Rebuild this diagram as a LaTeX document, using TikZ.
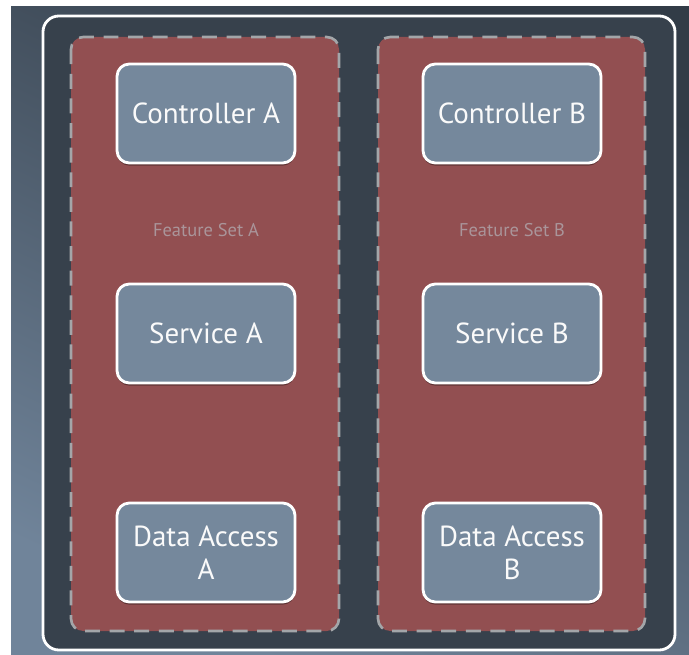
\documentclass[tikz,border=0pt]{standalone}
\usepackage{fontspec}
\setmainfont{PT Sans}
\usepackage{tikz}
\usetikzlibrary{positioning, shadows, calc}
\usepackage{xcolor}

\definecolor{bgtop}{HTML}{323C47}
\definecolor{bgbottom}{HTML}{70849A}
\definecolor{outerfill}{HTML}{37414C}
\definecolor{featfill}{HTML}{924F51}
\definecolor{featline}{HTML}{A3A6A9}
\definecolor{feattext}{HTML}{AA959A}
\definecolor{compfill}{HTML}{75889C}

\tikzset{
  component/.style={draw=white, line width=1.6pt, rounded corners=7pt, fill=compfill,
    minimum width=3.56cm, minimum height=1.98cm, align=center, text=white!96!gray,
    font=\fontsize{16.5}{19}\selectfont,
    drop shadow={opacity=0.35, shadow xshift=0pt, shadow yshift=-1.5pt, fill=black}},
  featureset/.style={draw=featline, line width=1.5pt, dash pattern=on 8.5pt off 5.5pt,
    rounded corners=7pt, fill=featfill},
  featurelabel/.style={text=feattext, font=\fontsize{10.5}{12}\selectfont}
}

\begin{document}
\begin{tikzpicture}[x=0.02cm, y=-0.02cm]
\useasboundingbox (0,0) rectangle (689,655);
% Background
\fill[white] (0,0) rectangle (689,655);
\shade[top color=bgtop, bottom color=bgbottom, shading angle=-25] (11,7) rectangle (689,655);
% Outer box
\draw[white, line width=1.6pt, rounded corners=9pt, fill=outerfill] (43,16) rectangle (675,650);
% Feature sets
\draw[featureset] (71,37) rectangle (339,631);
\draw[featureset] (378,37) rectangle (645,631);
\node[featurelabel] (labelA) at (206,230) {Feature Set A};
\node[featurelabel] (labelB) at (512,230) {Feature Set B};
% Feature set A
\node[component] (ctrlA) at (206,113.5) {Controller A};
\node[component] (servA) at (206,333.5) {Service A};
\node[component] (dataA) at (206,552.5) {Data Access\\A};
% Feature set B
\node[component] (ctrlB) at (512,113.5) {Controller B};
\node[component] (servB) at (512,333.5) {Service B};
\node[component] (dataB) at (512,552.5) {Data Access\\B};
\end{tikzpicture}
\end{document}
